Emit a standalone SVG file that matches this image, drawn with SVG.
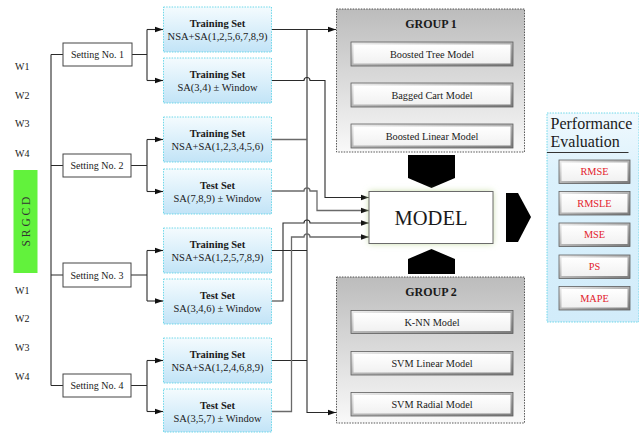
<svg xmlns="http://www.w3.org/2000/svg" width="639" height="433" viewBox="0 0 639 433">
<defs>
<linearGradient id="blueG" x1="0" y1="0" x2="0" y2="1"><stop offset="0" stop-color="#f4fbfe"/><stop offset="1" stop-color="#c2e4f7"/></linearGradient>
<linearGradient id="grayG" x1="0" y1="0" x2="0" y2="1"><stop offset="0" stop-color="#bcbcbc"/><stop offset="1" stop-color="#f9f9f9"/></linearGradient>
<linearGradient id="perfG" x1="0" y1="0" x2="0" y2="1"><stop offset="0" stop-color="#f0f9fe"/><stop offset="0.3" stop-color="#dbf1fc"/><stop offset="1" stop-color="#d2ecfa"/></linearGradient>
<linearGradient id="bevel" x1="0" y1="0" x2="1" y2="1"><stop offset="0" stop-color="#eeeeee"/><stop offset="1" stop-color="#7a7a7a"/></linearGradient>
<linearGradient id="btnIn" x1="0" y1="0" x2="0" y2="1"><stop offset="0" stop-color="#ffffff"/><stop offset="1" stop-color="#f1f1f1"/></linearGradient>
<filter id="glow" x="-20%" y="-30%" width="140%" height="160%"><feGaussianBlur stdDeviation="3"/></filter>
<marker id="arr" markerUnits="userSpaceOnUse" markerWidth="9" markerHeight="7" refX="8.5" refY="3.5" orient="auto"><path d="M0,0.5 L8.5,3.5 L0,6.5 z" fill="#111"/></marker>
</defs>
<style>
text{font-family:"Liberation Serif","Times New Roman",serif;fill:#1a1a1a;}
.w{font-size:10px;}
.set rect{fill:#fff;stroke:#444;stroke-width:1;}
.set text{font-size:10px;text-anchor:middle;}
.ds rect{fill:url(#blueG);stroke:#5fd4e6;stroke-width:0.9;stroke-dasharray:1.5 1.2;}
.ds text{font-size:10.5px;text-anchor:middle;}
.ds .t{font-weight:bold;}
.grp{fill:url(#grayG);stroke:#444;stroke-width:0.9;stroke-dasharray:1.5 1.2;}
.gt{font-size:12px;font-weight:bold;text-anchor:middle;}
.btn .o{fill:url(#bevel);stroke:#5e5e5e;stroke-width:0.8;}
.btn .i{fill:url(#btnIn);}
.btn text{font-size:10.3px;text-anchor:middle;}
.pb text{fill:#e3212b;}
.ln{fill:none;stroke:#2a2a2a;stroke-width:1.1;}
.lg{fill:none;stroke:#6a6a6a;stroke-width:1.3;}
.blk{fill:#000;}
</style>

<!-- left labels -->
<g id="w-labels">
<text class="w" x="15" y="70">W1</text>
<text class="w" x="15" y="99">W2</text>
<text class="w" x="15" y="127">W3</text>
<text class="w" x="15" y="157">W4</text>
<text class="w" x="15" y="294">W1</text>
<text class="w" x="15" y="322">W2</text>
<text class="w" x="15" y="351">W3</text>
<text class="w" x="15" y="380">W4</text>
</g>
<g id="srgcd">
<rect x="13.5" y="170" width="24" height="103" fill="#62f23c"/>
<text x="0" y="0" transform="translate(29.5,221.5) rotate(-90)" style="font-size:11.5px;text-anchor:middle;fill:#333">S R G C D</text>
</g>

<!-- connectors -->
<g id="connectors">
<path class="ln" d="M51,54.5 V385.5"/>
<path class="ln" d="M51,54.5 H63 M51,165.5 H63 M51,275 H63 M51,385.5 H63"/>
<path class="ln" d="M132,54.5 H147 M147,29.5 V80.5"/>
<path class="ln" d="M147,29.5 H163" marker-end="url(#arr)"/>
<path class="ln" d="M147,80.5 H163" marker-end="url(#arr)"/>
<path class="ln" d="M131,165.5 H147 M147,139.5 V191.5"/>
<path class="ln" d="M147,139.5 H163" marker-end="url(#arr)"/>
<path class="ln" d="M147,191.5 H163" marker-end="url(#arr)"/>
<path class="ln" d="M131,275 H147 M147,250.5 V301"/>
<path class="ln" d="M147,250.5 H163" marker-end="url(#arr)"/>
<path class="ln" d="M147,301 H163" marker-end="url(#arr)"/>
<path class="ln" d="M131,385.5 H147 M147,360.5 V411.5"/>
<path class="ln" d="M147,360.5 H163" marker-end="url(#arr)"/>
<path class="ln" d="M147,411.5 H163" marker-end="url(#arr)"/>

<!-- training bus -->
<path class="ln" d="M272,29.5 H336" marker-end="url(#arr)"/>
<path class="ln" d="M307,29.5 V412.5 H336" marker-end="url(#arr)"/>
<path class="lg" d="M272,139.5 H307"/>
<path class="ln" d="M272,250.5 H307"/>
<path class="ln" d="M272,360.5 H307"/>

<!-- test / window lines to MODEL -->
<path class="ln" d="M272,80.5 H304 a3,3 0 0 1 6,0 H325 V197.5 H369" marker-end="url(#arr)"/>
<path class="lg" d="M272,191 H304 a3,3 0 0 1 6,0 H317 V210.5 H369" marker-end="url(#arr)"/>
<path class="ln" d="M272,301 H283 V223 H304 a3,3 0 0 1 6,0 H369" marker-end="url(#arr)"/>
<path class="lg" d="M272,411.5 H291.5 V237 H304 a3,3 0 0 1 6,0 H369" marker-end="url(#arr)"/>

<!-- block arrows -->
<path class="blk" d="M408,155 H455 V178 L431.5,188 L408,178 Z"/>
<path class="blk" d="M431.5,249 L455,259 V274 H408 V259 Z"/>
<path class="blk" d="M506,193 H518 L531,217 L518,242 H506 Z"/>
</g>

<!-- settings -->
<g id="setting1" class="set"><rect x="63" y="43" width="69" height="23"/><text x="97.5" y="58">Setting No. 1</text></g>
<g id="setting2" class="set"><rect x="63" y="154" width="68" height="23"/><text x="97" y="169">Setting No. 2</text></g>
<g id="setting3" class="set"><rect x="63" y="263" width="68" height="24"/><text x="97" y="278.5">Setting No. 3</text></g>
<g id="setting4" class="set"><rect x="63" y="374" width="68" height="23"/><text x="97" y="389">Setting No. 4</text></g>

<!-- datasets -->
<g id="set1" class="ds"><rect x="163.5" y="7" width="108" height="45"/><text class="t" x="217.5" y="27">Training Set</text><text x="217.5" y="39.5">NSA+SA(1,2,5,6,7,8,9)</text></g>
<g id="set2" class="ds"><rect x="163.5" y="58" width="108" height="45"/><text class="t" x="217.5" y="78">Training Set</text><text x="217.5" y="90.5">SA(3,4) ± Window</text></g>
<g id="set3" class="ds"><rect x="163.5" y="117" width="108" height="45"/><text class="t" x="217.5" y="137">Training Set</text><text x="217.5" y="149.5">NSA+SA(1,2,3,4,5,6)</text></g>
<g id="set4" class="ds"><rect x="163.5" y="169" width="108" height="45"/><text class="t" x="217.5" y="189">Test Set</text><text x="217.5" y="201.5">SA(7,8,9) ± Window</text></g>
<g id="set5" class="ds"><rect x="163.5" y="228" width="108" height="45"/><text class="t" x="217.5" y="248">Training Set</text><text x="217.5" y="260.5">NSA+SA(1,2,5,7,8,9)</text></g>
<g id="set6" class="ds"><rect x="163.5" y="279" width="108" height="45"/><text class="t" x="217.5" y="299">Test Set</text><text x="217.5" y="311.5">SA(3,4,6) ± Window</text></g>
<g id="set7" class="ds"><rect x="163.5" y="338" width="108" height="45"/><text class="t" x="217.5" y="358">Training Set</text><text x="217.5" y="370.5">NSA+SA(1,2,4,6,8,9)</text></g>
<g id="set8" class="ds"><rect x="163.5" y="389" width="108" height="43"/><text class="t" x="217.5" y="409">Test Set</text><text x="217.5" y="421.5">SA(3,5,7) ± Window</text></g>

<!-- group 1 -->
<g id="group1">
<rect class="grp" x="336.5" y="9" width="188" height="143"/>
<text class="gt" x="431" y="27.5">GROUP 1</text>
<g class="btn"><rect class="o" x="351" y="42" width="162" height="24"/><rect class="i" x="353.5" y="44.5" width="157" height="19"/><text x="432" y="57.5">Boosted Tree Model</text></g>
<g class="btn"><rect class="o" x="351" y="83" width="162" height="24"/><rect class="i" x="353.5" y="85.5" width="157" height="19"/><text x="432" y="98.5">Bagged Cart Model</text></g>
<g class="btn"><rect class="o" x="351" y="124" width="162" height="24"/><rect class="i" x="353.5" y="126.5" width="157" height="19"/><text x="432" y="139.5">Boosted Linear Model</text></g>
</g>

<!-- model -->
<g id="model">
<rect x="369" y="191.5" width="124" height="52" fill="#c5dca2" filter="url(#glow)"/>
<rect x="369" y="191.5" width="124" height="52" fill="#fff" stroke="#6a6a6a" stroke-width="1"/>
<text x="431" y="225" style="font-size:20.5px;text-anchor:middle">MODEL</text>
</g>

<!-- group 2 -->
<g id="group2">
<rect class="grp" x="336.5" y="277" width="188" height="146"/>
<text class="gt" x="431" y="296">GROUP 2</text>
<g class="btn"><rect class="o" x="351" y="310.5" width="162" height="23"/><rect class="i" x="353.5" y="313" width="157" height="18"/><text x="432" y="325.5">K-NN Model</text></g>
<g class="btn"><rect class="o" x="351" y="351.5" width="162" height="23.5"/><rect class="i" x="353.5" y="354" width="157" height="18.5"/><text x="432" y="366.8">SVM Linear Model</text></g>
<g class="btn"><rect class="o" x="351" y="392.5" width="162" height="23.5"/><rect class="i" x="353.5" y="395" width="157" height="18.5"/><text x="432" y="407.8">SVM Radial Model</text></g>
</g>

<!-- performance -->
<g id="performance">
<rect x="547" y="113" width="92" height="209" fill="url(#perfG)" stroke="#5fd4e6" stroke-width="0.9" stroke-dasharray="1.5 1.2"/>
<text x="550.5" y="128.5" style="font-size:16px">Performance</text>
<text x="550.5" y="147" style="font-size:16px">Evaluation</text>
<path d="M547,152.5 H628.5" stroke="#333" stroke-width="1"/>
<g class="btn pb"><rect class="o" x="559" y="160" width="71" height="23.5"/><rect class="i" x="561.5" y="162.5" width="66" height="18.5"/><text x="594.5" y="175.3">RMSE</text></g>
<g class="btn pb"><rect class="o" x="559" y="191.5" width="71" height="23.5"/><rect class="i" x="561.5" y="194" width="66" height="18.5"/><text x="594.5" y="206.8">RMSLE</text></g>
<g class="btn pb"><rect class="o" x="559" y="223" width="71" height="23.5"/><rect class="i" x="561.5" y="225.5" width="66" height="18.5"/><text x="594.5" y="238.3">MSE</text></g>
<g class="btn pb"><rect class="o" x="559" y="255" width="71" height="23.5"/><rect class="i" x="561.5" y="257.5" width="66" height="18.5"/><text x="594.5" y="270.3">PS</text></g>
<g class="btn pb"><rect class="o" x="559" y="286.5" width="71" height="23.5"/><rect class="i" x="561.5" y="289" width="66" height="18.5"/><text x="594.5" y="301.8">MAPE</text></g>
</g>
</svg>
